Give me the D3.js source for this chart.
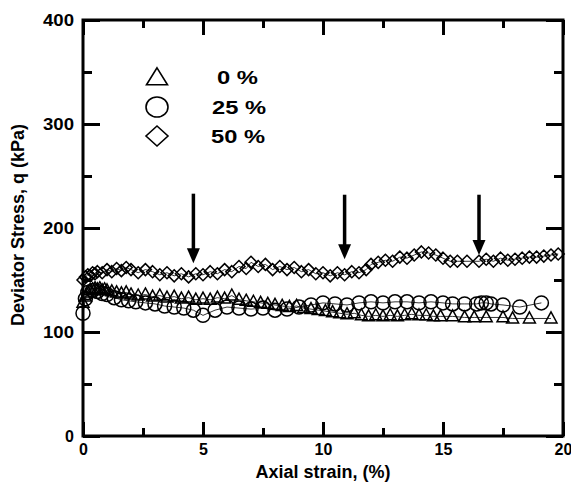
<!DOCTYPE html>
<html><head><meta charset="utf-8">
<script src="https://cdn.jsdelivr.net/npm/d3@7"></script>
<style>body{margin:0;background:#fff}svg{display:block}text{font-family:"Liberation Sans",Arial,sans-serif;font-weight:bold;fill:#000}</style>
</head><body><svg id="c" width="571" height="486"></svg>
<script>
const xTicks = [0, 5, 10, 15, 20];
const yTicks = [0, 100, 200, 300, 400];
const seriesNames = ["0 %", "25 %", "50 %"];

const triStrain = [0,0.1,0.2,0.3,0.4,0.5,0.6,0.7,0.8,0.9,1.0,1.2,1.4,1.6,1.8,2.0,2.3,2.6,2.9,3.2,3.5,3.8,4.1,4.4,4.7,5.0,5.3,5.6,5.9,6.2,6.5,6.8,7.1,7.4,7.7,8.0,8.3,8.6,8.9,9.2,9.5,9.8,10.1,10.4,10.7,11.0,11.3,11.6,11.9,12.2,12.5,12.8,13.1,13.4,13.7,14.0,14.3,14.6,14.9,15.4,15.9,16.3,16.8,17.5,17.9,18.6,19.5];
const triQ = [128,134,138,140,141,142,141,142,140,141,140,139,138,137,138,136,135,136,134,135,133,134,132,133,131,132,131,133,132,135,131,130,129,128,127,126,125,124,125,123,122,121,120,119,118,117,118,116,115,116,115,116,115,116,117,116,116,115,115,115,114,114,114,114,113,113,113];

const cirStrain = [0,0.1,0.2,0.4,0.6,0.8,1.0,1.3,1.6,1.9,2.2,2.6,3.0,3.4,3.8,4.2,4.6,5.0,5.5,6.0,6.5,7.0,7.5,8.0,8.5,9.0,9.5,10.0,10.5,11.0,11.5,12.0,12.5,13.0,13.5,14.0,14.5,15.0,15.4,15.9,16.4,16.6,16.8,17.0,17.5,18.2,19.1];
const cirQ = [118,132,138,140,139,137,136,133,131,130,129,128,127,125,124,123,121,116,121,124,123,122,123,121,122,124,126,128,127,126,128,129,128,129,129,128,129,128,127,127,127,128,128,127,126,124,128];

const diaStrain = [0,0.1,0.2,0.3,0.4,0.5,0.6,0.8,1.0,1.2,1.4,1.6,1.8,2.0,2.3,2.6,2.9,3.2,3.5,3.8,4.1,4.4,4.7,5.0,5.3,5.6,5.9,6.2,6.5,6.8,7.0,7.3,7.6,7.9,8.2,8.5,8.8,9.1,9.4,9.7,10.0,10.3,10.6,10.9,11.2,11.5,11.8,12.0,12.3,12.6,12.9,13.2,13.5,13.8,14.1,14.4,14.7,15.0,15.3,15.6,16.0,16.5,16.8,17.1,17.4,17.7,18.0,18.3,18.6,18.9,19.2,19.5,19.8];
const diaQ = [150,153,155,154,157,156,158,157,160,158,161,159,162,160,157,160,158,155,157,154,156,153,156,155,158,156,160,158,163,161,167,163,165,160,163,160,162,158,160,156,157,154,157,155,158,157,160,165,167,169,168,172,171,174,177,176,174,171,168,168,168,168,170,168,171,169,170,171,172,172,173,174,175];

const arrowStrain = [4.6, 10.9, 16.5];
const arrowTop = [233, 232, 232];
const arrowTip = [166, 170, 174];

const svg = d3.select("#c");
const L = 83, R = 563, T = 20, B = 436;
const x = d3.scaleLinear().domain([0, 20]).range([L, R]);
const y = d3.scaleLinear().domain([0, 400]).range([B, T]);

const minorX = d3.range(0, 20.01, 2.5), minorY = d3.range(0, 400.1, 50);
function tickStyle(g){ g.select(".domain").remove(); g.selectAll("line").attr("stroke","#000").attr("stroke-width",3); }
svg.append("g").attr("transform",`translate(0,${B})`).call(d3.axisBottom(x).tickValues(minorX).tickSize(-8).tickFormat("")).call(tickStyle);
svg.append("g").attr("transform",`translate(0,${T})`).call(d3.axisTop(x).tickValues(minorX).tickSize(-8).tickFormat("")).call(tickStyle);
svg.append("g").attr("transform",`translate(${L},0)`).call(d3.axisLeft(y).tickValues(minorY).tickSize(-9).tickFormat("")).call(tickStyle);
svg.append("g").attr("transform",`translate(${R},0)`).call(d3.axisRight(y).tickValues(minorY).tickSize(-9).tickFormat("")).call(tickStyle);
const gxb = svg.append("g").attr("transform",`translate(0,${B})`).call(d3.axisBottom(x).tickValues(xTicks).tickSize(-14).tickPadding(8).tickFormat(d3.format("d"))).call(tickStyle);
svg.append("g").attr("transform",`translate(0,${T})`).call(d3.axisTop(x).tickValues(xTicks).tickSize(-15).tickFormat("")).call(tickStyle);
const gyl = svg.append("g").attr("transform",`translate(${L},0)`).call(d3.axisLeft(y).tickValues(yTicks).tickSize(-17).tickPadding(8).tickFormat(d3.format("d"))).call(tickStyle);
svg.append("g").attr("transform",`translate(${R},0)`).call(d3.axisRight(y).tickValues(yTicks).tickSize(-17).tickFormat("")).call(tickStyle);
gxb.selectAll("text").attr("font-size",16).attr("font-family","Liberation Sans, Arial, sans-serif").attr("font-weight","bold").attr("fill","#000").attr("dy","0.5em").attr("y",11);
gyl.selectAll("text").attr("font-size",16).attr("font-family","Liberation Sans, Arial, sans-serif").attr("font-weight","bold").attr("fill","#000").attr("x",-9).attr("dy","0.36em")
  .each(function(d){ if (d >= 100) d3.select(this).attr("textLength",31).attr("lengthAdjust","spacingAndGlyphs"); });

svg.append("rect").attr("x",L).attr("y",T).attr("width",R-L).attr("height",B-T).attr("fill","none").attr("stroke","#000").attr("stroke-width",3);

svg.append("text").attr("x",(L+R)/2).attr("y",478).attr("text-anchor","middle").attr("font-size",18).text("Axial strain, (%)");
svg.append("text").attr("transform","translate(24,225) rotate(-90)").attr("text-anchor","middle").attr("font-size",18).text("Deviator Stress, q (kPa)");

const plot = svg.append("g");
const line = d3.line().x(d=>x(d[0])).y(d=>y(d[1]));
function pts(s,q){ return s.map((v,i)=>[v,q[i]]); }
const triP = pts(triStrain,triQ), cirP = pts(cirStrain,cirQ), diaP = pts(diaStrain,diaQ);
[triP,cirP,diaP].forEach(p=>plot.append("path").attr("d",line(p)).attr("fill","none").attr("stroke","#000").attr("stroke-width",0.8));

function triPath(cx,cy,w,h){ return `M${cx},${cy-h*0.6}L${cx+w/2},${cy+h*0.4}L${cx-w/2},${cy+h*0.4}Z`; }
function diaPath(cx,cy,w,h){ return `M${cx},${cy-h/2}L${cx+w/2},${cy}L${cx},${cy+h/2}L${cx-w/2},${cy}Z`; }
function st(sel){ return sel.attr("fill","none").attr("stroke","#000").attr("stroke-width",1.5); }

st(plot.selectAll(".tri").data(triP).join("path").attr("d",d=>triPath(x(d[0]),y(d[1]),12,11)));
st(plot.selectAll(".cir").data(cirP).join("circle").attr("cx",d=>x(d[0])).attr("cy",d=>y(d[1])).attr("r",7));
st(plot.selectAll(".dia").data(diaP).join("path").attr("d",d=>diaPath(x(d[0]),y(d[1]),12,12)));

arrowStrain.forEach((s,i)=>{
  const ax = x(s), yt = y(arrowTop[i]), yp = y(arrowTip[i]);
  svg.append("line").attr("x1",ax).attr("x2",ax).attr("y1",yt).attr("y2",yp-10).attr("stroke","#000").attr("stroke-width",3.5);
  svg.append("path").attr("d",`M${ax-6.5},${yp-15}L${ax+6.5},${yp-15}L${ax},${yp}Z`).attr("fill","#000");
});

const legY = [77, 107, 136], legTX = [217, 212, 211], legTW = [41, 54, 54];
const lg = svg.append("g");
lg.append("path").attr("d",triPath(157,legY[0]+1,21,17)).attr("fill","none").attr("stroke","#000").attr("stroke-width",1.6);
lg.append("ellipse").attr("cx",157).attr("cy",legY[1]).attr("rx",11).attr("ry",10).attr("fill","none").attr("stroke","#000").attr("stroke-width",1.6);
lg.append("path").attr("d",diaPath(157,legY[2],22,20)).attr("fill","none").attr("stroke","#000").attr("stroke-width",1.6);
seriesNames.forEach((n,i)=>lg.append("text").attr("x",legTX[i]).attr("y",legY[i]+7).attr("font-size",18)
  .attr("textLength",legTW[i]).attr("lengthAdjust","spacingAndGlyphs").text(n));
</script></body></html>
